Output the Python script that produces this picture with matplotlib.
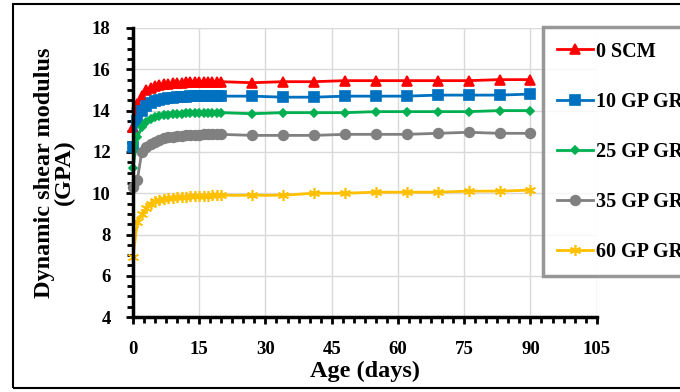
import matplotlib
matplotlib.use("Agg")
import matplotlib.pyplot as plt
from matplotlib.patches import Rectangle
from matplotlib.ticker import MultipleLocator

# ages: daily for the first 3 weeks, weekly afterwards
days = list(range(0, 21)) + [27, 34, 41, 48, 55, 62, 69, 76, 83, 90]

scm_0 = [13.2, 14.3, 14.7, 15.0, 15.1, 15.2, 15.25, 15.3, 15.3, 15.35, 15.35,
         15.35, 15.4, 15.4, 15.4, 15.4, 15.4, 15.4, 15.4, 15.4, 15.4,
         15.35, 15.4, 15.4, 15.45, 15.45, 15.45, 15.45, 15.45, 15.5, 15.5]
gp_10 = [12.25, 13.5, 14.0, 14.2, 14.35, 14.45, 14.5, 14.55, 14.6, 14.6, 14.65,
         14.65, 14.65, 14.7, 14.7, 14.7, 14.7, 14.7, 14.7, 14.7, 14.7,
         14.7, 14.65, 14.65, 14.7, 14.7, 14.7, 14.75, 14.75, 14.75, 14.8]
gp_25 = [11.2, 12.7, 13.2, 13.45, 13.6, 13.7, 13.75, 13.8, 13.8, 13.85, 13.85,
         13.85, 13.9, 13.9, 13.9, 13.9, 13.9, 13.9, 13.9, 13.9, 13.9,
         13.85, 13.9, 13.9, 13.9, 13.95, 13.95, 13.95, 13.95, 14.0, 14.0]
gp_35 = [10.3, 10.65, 12.0, 12.25, 12.4, 12.5, 12.6, 12.65, 12.7, 12.7, 12.75,
         12.75, 12.8, 12.8, 12.8, 12.8, 12.85, 12.85, 12.85, 12.85, 12.85,
         12.8, 12.8, 12.8, 12.85, 12.85, 12.85, 12.9, 12.95, 12.9, 12.9]
gp_60 = [6.9, 8.6, 9.0, 9.3, 9.5, 9.6, 9.65, 9.7, 9.75, 9.75, 9.8,
         9.8, 9.8, 9.85, 9.85, 9.85, 9.85, 9.85, 9.9, 9.9, 9.9,
         9.9, 9.9, 10.0, 10.0, 10.05, 10.05, 10.05, 10.1, 10.1, 10.15]

labels = ["0 SCM", "10 GP GR", "25 GP GR", "35 GP GR", "60 GP GR"]
colors = ["#FF0000", "#0070C0", "#00B050", "#808080", "#FFC000"]
markers = ["^", "s", "D", "o", (6, 2, 0)]
msizes = [7, 6.5, 4.5, 7, 8]

plt.rcParams['font.family'] = ['Liberation Serif', 'DejaVu Serif']
plt.rcParams['font.weight'] = 'bold'

fig = plt.figure(figsize=(6.8, 3.92), dpi=100)
ax = fig.add_axes([0.1955, 0.191, 0.682, 0.7376])

series = [scm_0, gp_10, gp_25, gp_35, gp_60]
for vals, lab, col, mk, ms in zip(series, labels, colors, markers, msizes):
    ax.plot(days, vals, color=col, marker=mk, markersize=ms, linewidth=2,
            markeredgewidth=1.2, label=lab, clip_on=False)

ax.set_xlim(0, 105)
ax.set_ylim(4, 18)
ax.xaxis.set_major_locator(MultipleLocator(15))
ax.xaxis.set_minor_locator(MultipleLocator(2.5))
ax.yaxis.set_major_locator(MultipleLocator(2))
ax.yaxis.set_minor_locator(MultipleLocator(0.5))
ax.grid(True, which='major', color='#d9d9d9', linewidth=1)
ax.set_axisbelow(True)

for s in ['top', 'right']:
    ax.spines[s].set_visible(False)
for s in ['left', 'bottom']:
    ax.spines[s].set_linewidth(2.5)
ax.tick_params(which='both', direction='out', width=2, labelsize=13.5)
ax.tick_params(which='major', length=5)
ax.tick_params(which='minor', length=4)
ax.tick_params(axis='y', which='major', pad=11)
ax.tick_params(axis='x', which='major', pad=12)
for t in ax.get_xticklabels() + ax.get_yticklabels():
    t.set_fontweight('bold')

ax.set_xlabel("Age (days)", fontsize=17.5, fontweight='bold', labelpad=2)
ax.set_ylabel("Dynamic shear modulus\n(GPA)", fontsize=17.5, fontweight='bold',
              labelpad=12, linespacing=0.95)

leg = fig.legend(loc='upper left', bbox_to_anchor=(0.799, 0.93),
                 fontsize=14.5, frameon=True, fancybox=False,
                 labelspacing=1.5, handlelength=1.75, handletextpad=0.15,
                 borderpad=0.7, borderaxespad=0)
leg.get_frame().set_edgecolor('#7f7f7f')
leg.get_frame().set_linewidth(2.5)
for t in leg.get_texts():
    t.set_fontweight('bold')

fig.patches.append(Rectangle((13 / 680, 4 / 392), 1.0, 384 / 392,
                             transform=fig.transFigure, fill=False,
                             edgecolor='black', linewidth=1.5))

fig.savefig("out.png", dpi=100)
